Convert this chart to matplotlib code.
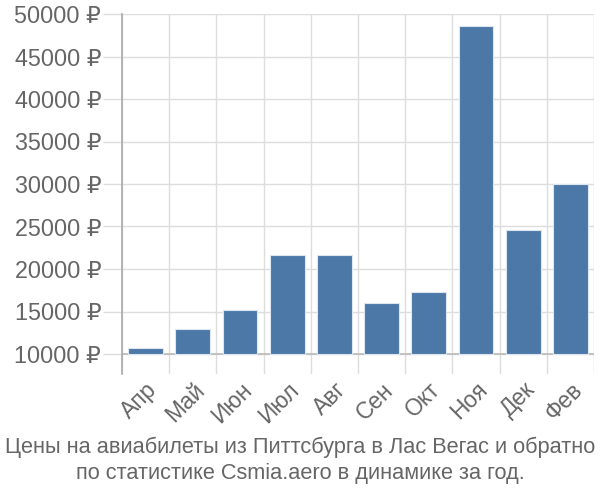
import matplotlib
matplotlib.use("Agg")
import matplotlib.pyplot as plt
import numpy as np

months = ["Апр", "Май", "Июн", "Июл", "Авг", "Сен", "Окт", "Ноя", "Дек", "Фев"]
prices = [10700, 12900, 15150, 21700, 21700, 16050, 17350, 48550, 24600, 30050]
yticks = [10000, 15000, 20000, 25000, 30000, 35000, 40000, 45000, 50000]
title = "Цены на авиабилеты из Питтсбурга в Лас Вегас и обратно\nпо статистике Csmia.aero в динамике за год."

base = 10000
font = ["Liberation Sans", "DejaVu Sans"]
plt.rcParams['font.family'] = font

fig = plt.figure(figsize=(6, 5), dpi=100)
ax = fig.add_axes([122/600, 1-374/500, 472/600, 360/500])

x = np.arange(len(months))
ax.bar(x, np.array(prices) - base, bottom=base, width=0.74, color="#4c78a8",
       edgecolor="#dde6f0", linewidth=0.8, zorder=3)

ax.set_xlim(-0.5, len(months) - 0.5)
ax.set_ylim(base - 20/8.5*1000, 50000)

ax.set_yticks(yticks)
ax.set_yticklabels([f"{v} ₽" for v in yticks], fontsize=16.8, color="#666666")
ax.tick_params(axis='y', length=14, color="#dddddd", width=1, pad=1)

ax.set_xticks(x)
ax.set_xticklabels(months, rotation=45, ha='right', va='top', rotation_mode='anchor',
                   fontsize=16.5, color="#666666")
ax.tick_params(axis='x', length=0, pad=3)

ax.set_xticks(np.arange(-0.5, len(months)), minor=True)
ax.tick_params(axis='x', which='minor', length=0)
ax.grid(True, axis='x', which='minor', color="#dddddd", linewidth=1, zorder=0)
ax.grid(True, axis='y', which='major', color="#dddddd", linewidth=1, zorder=0)
ax.axhline(base, color="#bbbbbb", linewidth=1.2, zorder=2)

for s in ["top", "right", "bottom"]:
    ax.spines[s].set_visible(False)
ax.spines["left"].set_color("#aaaaaa")
ax.spines["left"].set_linewidth(1.2)

fig.text(0.5, 1-460/500, title, ha='center', va='center', fontsize=15.7, color="#666666",
         linespacing=1.3)

fig.savefig("out.png", dpi=100)
